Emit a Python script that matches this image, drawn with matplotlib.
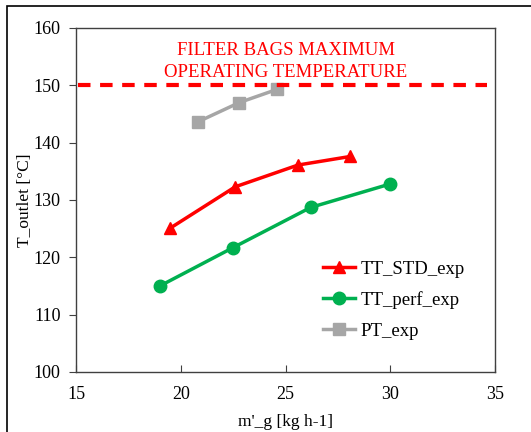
import matplotlib.pyplot as plt
from matplotlib.patches import Rectangle

# data
std_x = [19.5, 22.6, 25.6, 28.1]
std_y = [125.1, 132.3, 136.1, 137.6]
perf_x = [19.0, 22.5, 26.2, 30.0]
perf_y = [115.0, 121.7, 128.7, 132.8]
pt_x = [20.8, 22.8, 24.6]
pt_y = [143.6, 147.0, 149.3]
limit_y = 150

plt.rcParams['font.family'] = ['Liberation Serif', 'DejaVu Serif']

fig = plt.figure(figsize=(5.31, 4.32), dpi=100)
ax = fig.add_axes([76 / 531, 1 - 372 / 432, (495 - 76) / 531, (372 - 28) / 432])

# outer frame of the exported chart
fig.patches.append(Rectangle((7 / 531, -0.1), 1.2, 1 - 6 / 432 + 0.1,
                             transform=fig.transFigure, fill=False,
                             edgecolor='black', linewidth=1.2))

ax.plot(std_x, std_y, color='#FF0000', marker='^', markersize=9, linewidth=2.5,
        label='TT_STD_exp')
ax.plot(perf_x, perf_y, color='#00B050', marker='o', markersize=9, linewidth=2.5,
        label='TT_perf_exp')
ax.plot(pt_x, pt_y, color='#A6A6A6', marker='s', markersize=8.5, linewidth=2.5,
        label='PT_exp')

ax.plot([15.1, 34.6], [limit_y, limit_y], color='#FF0000', linewidth=3,
        dashes=(3, 2.3))
ax.text(25, 154.2, 'FILTER BAGS MAXIMUM\nOPERATING TEMPERATURE', color='#FF0000',
        ha='center', va='center', fontsize=13.5, linespacing=1.37)

ax.set_xlim(15, 35)
ax.set_ylim(100, 160)
ax.set_xticks([15, 20, 25, 30, 35])
ax.set_yticks(range(100, 161, 10))
ax.tick_params(axis='x', direction='in', length=5, labelsize=13, pad=10,
               color='#404040')
ax.tick_params(axis='y', direction='out', length=5, labelsize=13, pad=6,
               color='#404040')
for s in ax.spines.values():
    s.set_color('#404040')
    s.set_linewidth(1)

ax.set_xlabel("m'_g [kg h-1]", fontsize=12.5, labelpad=8)
ax.set_ylabel('T_outlet [°C]', fontsize=12.5, labelpad=0.5)

ax.legend(loc='lower left', bbox_to_anchor=(0.549, 0.045), frameon=False,
          fontsize=13.5, handlelength=1.7, handletextpad=0.3, labelspacing=0.72)

fig.savefig('out.png', dpi=100)
